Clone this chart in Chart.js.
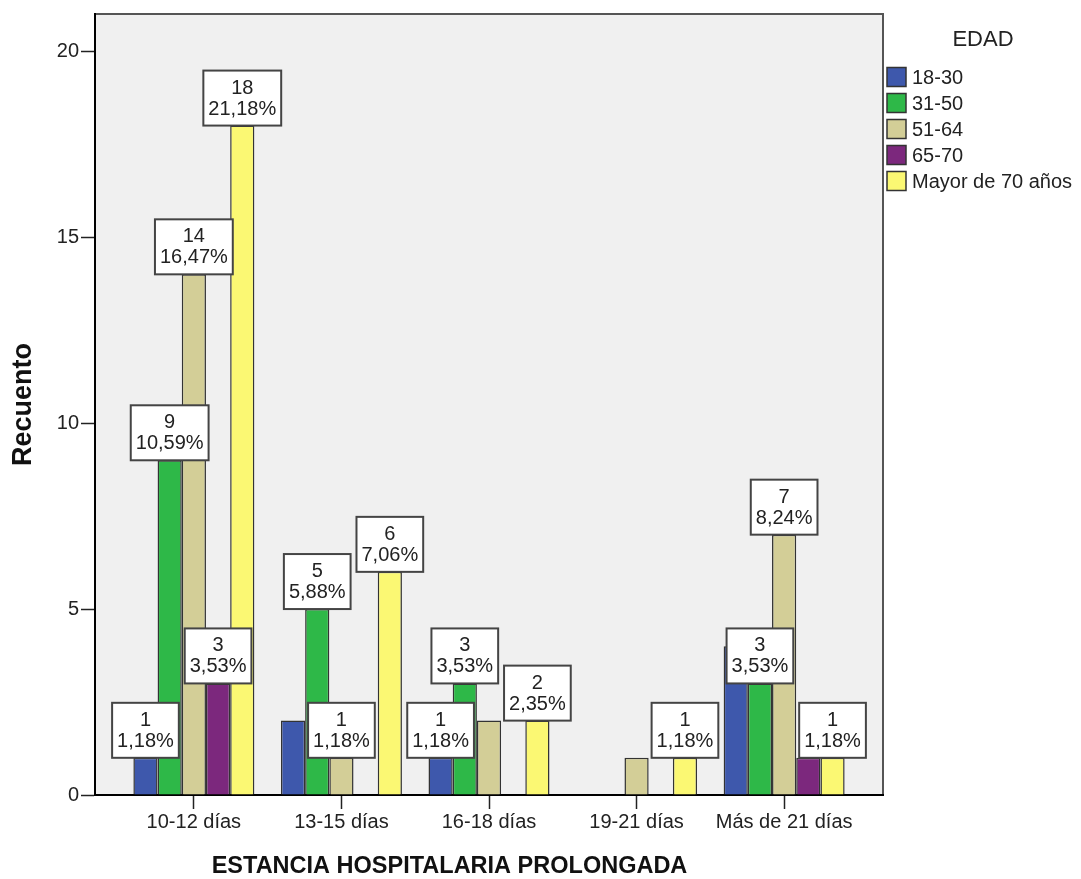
<!DOCTYPE html>
<html>
<head>
<meta charset="utf-8">
<title>Estancia hospitalaria prolongada por edad</title>
<script src="https://cdn.jsdelivr.net/npm/chart.js@4.4.1/dist/chart.umd.min.js"></script>
<style>
  html, body { margin: 0; padding: 0; background: #fff; }
  #chart { display: block; }
</style>
</head>
<body>
<canvas id="chart" width="1081" height="879"></canvas>
<script>
// categorias de estancia y grupos de edad
var categories = ['10-12 días', '13-15 días', '16-18 días', '19-21 días', 'Más de 21 días'];
var ageGroups = ['18-30', '31-50', '51-64', '65-70', 'Mayor de 70 años'];

// recuento por grupo de edad (una posicion por categoria)
var edad18a30 = [1, 2, 1, 0, 4];
var edad31a50 = [9, 5, 3, 0, 3];
var edad51a64 = [14, 1, 2, 1, 7];
var edad65a70 = [3, 0, 0, 0, 1];
var edadMayor70 = [18, 6, 2, 1, 1];

var yTicks = [0, 5, 10, 15, 20];

var ageColors = ['#3e58ac', '#2eb848', '#d3ce97', '#7c287d', '#fbf873'];
var FONT = '"Liberation Sans", Arial, sans-serif';

var series = [edad18a30, edad31a50, edad51a64, edad65a70, edadMayor70];
var total = 0;
series.forEach(function (arr) { arr.forEach(function (v) { total += v; }); });

function pct(v) {
    return (v / total * 100).toFixed(2).replace('.', ',') + '%';
}

// fondo gris del area de trazado y marco
var plotFrame = {
    id: 'plotFrame',
    beforeDraw: function (chart) {
        var ctx = chart.ctx, a = chart.chartArea;
        ctx.save();
        ctx.fillStyle = '#fff';
        ctx.fillRect(0, 0, chart.width, chart.height);
        ctx.fillStyle = '#f0f0f0';
        ctx.fillRect(a.left, a.top, a.right - a.left, a.bottom - a.top);
        ctx.strokeStyle = '#555';
        ctx.lineWidth = 2;
        ctx.strokeRect(a.left, a.top, a.right - a.left, a.bottom - a.top);
        ctx.restore();
    }
};

// etiquetas "recuento / porcentaje" encima de cada barra, se omiten si se solapan
var barLabels = {
    id: 'barLabels',
    afterDatasetsDraw: function (chart) {
        var ctx = chart.ctx;
        var placed = [];
        ctx.save();
        ctx.font = '20px ' + FONT;
        ctx.textAlign = 'center';
        ctx.textBaseline = 'middle';
        for (var k = chart.data.datasets.length - 1; k >= 0; k--) {
            var meta = chart.getDatasetMeta(k);
            meta.data.forEach(function (bar, i) {
                var v = series[k][i];
                if (!v) return;
                var lines = [String(v), pct(v)];
                var w = Math.max(ctx.measureText(lines[0]).width, ctx.measureText(lines[1]).width) + 10;
                var h = 55;
                var box = { l: bar.x - w / 2, r: bar.x + w / 2, t: bar.y - h, b: bar.y };
                var hit = placed.some(function (p) {
                    return box.l < p.r - 1 && box.r > p.l + 1 && box.t < p.b - 1 && box.b > p.t + 1;
                });
                if (hit) return;
                placed.push(box);
                ctx.fillStyle = '#fff';
                ctx.fillRect(box.l, box.t, w, h);
                ctx.strokeStyle = '#444';
                ctx.lineWidth = 2;
                ctx.strokeRect(box.l, box.t, w, h);
                ctx.fillStyle = '#222';
                ctx.fillText(lines[0], bar.x, box.t + 17.5);
                ctx.fillText(lines[1], bar.x, box.t + 38.5);
            });
        }
        ctx.restore();
    }
};

// leyenda EDAD a la derecha y titulo del eje X
var sideLegend = {
    id: 'sideLegend',
    afterDraw: function (chart) {
        var ctx = chart.ctx, a = chart.chartArea;
        ctx.save();
        ctx.fillStyle = '#222';
        ctx.textBaseline = 'middle';
        ctx.textAlign = 'center';
        ctx.font = '22px ' + FONT;
        ctx.fillText('EDAD', (a.right + chart.width) / 2 + 1, 40);

        ctx.textAlign = 'left';
        ctx.font = '20px ' + FONT;
        var x0 = a.right + 4;
        ageGroups.forEach(function (name, k) {
            var cy = 77 + k * 26;
            ctx.fillStyle = ageColors[k];
            ctx.fillRect(x0, cy - 9.5, 19, 19);
            ctx.strokeStyle = '#333';
            ctx.lineWidth = 1.5;
            ctx.strokeRect(x0, cy - 9.5, 19, 19);
            ctx.fillStyle = '#222';
            ctx.fillText(name, x0 + 25, cy + 1);
        });

        ctx.textAlign = 'center';
        ctx.fillStyle = '#111';
        ctx.font = 'bold 23.5px ' + FONT;
        ctx.fillText('ESTANCIA HOSPITALARIA PROLONGADA', a.right / 2 + 8, 867);
        ctx.restore();
    }
};

var datasets = series.map(function (vals, k) {
    return {
        label: ageGroups[k],
        data: vals.map(function (v, i) { return { x: i, y: v }; }),
        backgroundColor: ageColors[k],
        borderColor: '#333',
        borderWidth: function (c) { return (c.raw && c.raw.y > 0) ? 1.5 : 0; },
        categoryPercentage: 0.82,
        barPercentage: 1
    };
});

var ctx = document.getElementById('chart').getContext('2d');
var chart = new Chart(ctx, {
    type: 'bar',
    data: { datasets: datasets },
    plugins: [plotFrame, barLabels, sideLegend],
    options: {
        responsive: false,
        devicePixelRatio: 1,
        animation: false,
        layout: { padding: { top: 14, right: 198, left: 0, bottom: 0 } },
        plugins: {
            legend: { display: false },
            tooltip: { enabled: false }
        },
        scales: {
            x: {
                type: 'linear',
                offset: false,
                min: -0.67,
                max: 4.67,
                afterBuildTicks: function (s) {
                    s.ticks = categories.map(function (c, i) { return { value: i }; });
                },
                afterFit: function (s) { s.height = 84; },
                ticks: {
                    callback: function (v) { return categories[v]; },
                    autoSkip: false,
                    maxRotation: 0,
                    padding: 1,
                    color: '#222',
                    font: { family: FONT, size: 20 }
                },
                grid: { offset: false, drawOnChartArea: false, drawTicks: true, tickLength: 14, tickColor: '#222', tickWidth: 1.5 },
                border: { display: true, color: '#000', width: 2 }
            },
            y: {
                min: 0,
                max: 21,
                afterBuildTicks: function (s) {
                    s.ticks = yTicks.map(function (t) { return { value: t }; });
                },
                afterFit: function (s) { s.width = 95; },
                ticks: {
                    padding: 2,
                    color: '#222',
                    font: { family: FONT, size: 20 }
                },
                grid: { drawOnChartArea: false, drawTicks: true, tickLength: 14, tickColor: '#222', tickWidth: 1.5 },
                border: { display: true, color: '#000', width: 2 },
                title: {
                    display: true,
                    text: 'Recuento',
                    color: '#111',
                    font: { family: FONT, size: 27, weight: 'bold', lineHeight: 1 },
                    padding: { top: 10, bottom: 0 }
                }
            }
        }
    }
});
</script>
</body>
</html>
